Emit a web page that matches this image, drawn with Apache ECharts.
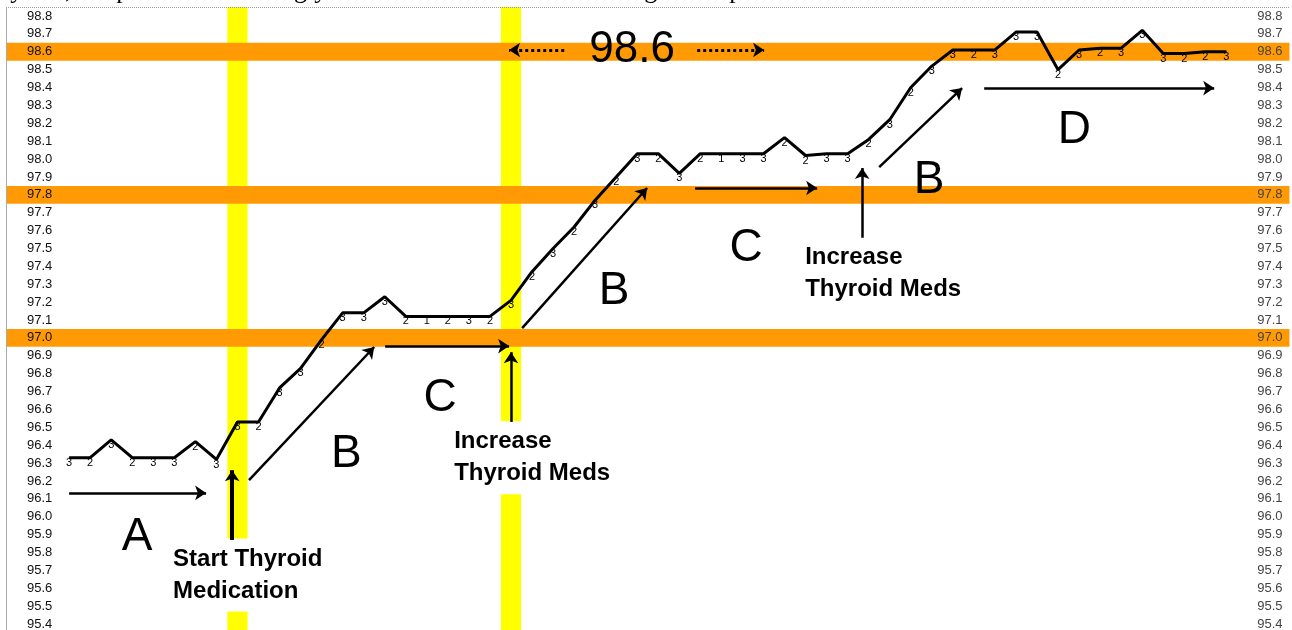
<!DOCTYPE html>
<html style="height: 100%">
<head>
    <meta charset="utf-8">
</head>
<body style="height: 100%; margin: 0; background: #fff">
<div id="container" style="width: 1292px; height: 630px"></div>
<script type="text/javascript" src="https://cdn.jsdelivr.net/npm/echarts@6/dist/echarts.min.js"></script>
<script type="text/javascript">
    // daily averaged temperatures, one point per day
    var tempValues = [
        96.33, 96.33, 96.43, 96.33, 96.33, 96.33, 96.42, 96.32,
        96.53, 96.53, 96.72, 96.83, 96.99, 97.14, 97.14, 97.23,
        97.12, 97.12, 97.12, 97.12, 97.12, 97.21,
        97.37, 97.50, 97.62, 97.77, 97.90, 98.03,
        98.03, 97.92, 98.03, 98.03, 98.03, 98.03,
        98.12, 98.02, 98.03, 98.03, 98.11, 98.22,
        98.40, 98.52, 98.61, 98.61, 98.61,
        98.71, 98.71, 98.50, 98.61, 98.62, 98.62,
        98.72, 98.59, 98.59, 98.60, 98.60
    ];
    // number of readings per day (the little labels)
    var readingCounts = [
        3, 2, 3, 2, 3, 3, 2, 3,
        3, 2, 3, 3, 2, 3, 3, 3, 2, 1, 2, 3, 2, 3,
        2, 3, 2, 3, 2, 3, 2, 3, 2, 1, 3, 3,
        2, 2, 3, 3, 2, 3, 2, 3, 3, 2, 3, 3, 3, 2, 3, 2, 3, 3, 3, 2, 2, 3
    ];
    var yTicks = [
        '95.4', '95.5', '95.6', '95.7', '95.8', '95.9', '96.0', '96.1', '96.2', '96.3',
        '96.4', '96.5', '96.6', '96.7', '96.8', '96.9', '97.0', '97.1', '97.2', '97.3',
        '97.4', '97.5', '97.6', '97.7', '97.8', '97.9', '98.0', '98.1', '98.2', '98.3',
        '98.4', '98.5', '98.6', '98.7', '98.8'
    ];
    var refBands = [97.0, 97.8, 98.6];
    var medDays = [9, 22];

    // annotations in data coords: [x1, y1, x2, y2]
    var arrows = [
        [1.0, 96.133, 7.51, 96.133],
        [9.55, 96.205, 15.5, 96.949],
        [16.02, 96.954, 21.91, 96.954],
        [22.0, 96.53, 22.0, 96.92],
        [22.53, 97.055, 28.47, 97.838],
        [30.75, 97.838, 36.55, 97.838],
        [38.69, 97.56, 38.69, 97.95],
        [39.5, 97.955, 43.44, 98.397],
        [44.49, 98.397, 55.42, 98.397]
    ];
    var startArrow = [8.75, 95.87, 8.75, 96.26];
    var dottedArrows = [
        [24.53, 98.61, 21.91, 98.61],
        [30.85, 98.61, 34.03, 98.61]
    ];
    var phaseLabels = [
        ['A', 4.23, 95.886], ['B', 14.17, 96.35], ['C', 18.63, 96.66],
        ['B', 26.90, 97.26], ['C', 33.18, 97.50], ['B', 41.87, 97.88],
        ['D', 48.77, 98.16], ['98.6', 27.76, 98.61]
    ];
    var noteLabels = [
        ['Start Thyroid\nMedication', 5.75, 95.674],
        ['Increase\nThyroid Meds', 19.11, 96.33],
        ['Increase\nThyroid Meds', 35.79, 97.36]
    ];

    var dom = document.getElementById("container");
    var myChart = echarts.init(dom);

    var lineData = tempValues.map(function (v, i) { return [i + 1, v]; });

    var areas = [];
    medDays.forEach(function (d) {
        areas.push([
            { coord: [d - 0.48, 98.85], itemStyle: { color: '#ffff00' } },
            { coord: [d + 0.48, 95.3] }
        ]);
    });
    refBands.forEach(function (b) {
        areas.push([
            { yAxis: b + 0.05, itemStyle: { color: '#ff9a05' } },
            { yAxis: b - 0.05 }
        ]);
    });

    var arrowLines = arrows.map(function (a) {
        return [{ coord: [a[0], a[1]] }, { coord: [a[2], a[3]] }];
    });
    arrowLines.push([
        { coord: [startArrow[0], startArrow[1]], lineStyle: { width: 4 } },
        { coord: [startArrow[2], startArrow[3]] }
    ]);
    dottedArrows.forEach(function (a) {
        arrowLines.push([
            { coord: [a[0], a[1]], lineStyle: { type: 'dotted', width: 3 } },
            { coord: [a[2], a[3]] }
        ]);
    });

    var labelFont = 'Liberation Sans, Arial, sans-serif';
    var noteData = [];
    phaseLabels.forEach(function (p) {
        noteData.push({
            value: [p[1], p[2]],
            label: {
                show: true, position: 'inside', formatter: p[0],
                fontSize: p[0] === '98.6' ? 44 : 46, color: '#000', opacity: 1,
                fontFamily: labelFont
            }
        });
    });
    noteLabels.forEach(function (n) {
        noteData.push({
            value: [n[1], n[2]],
            label: {
                show: true, position: 'right', distance: 0, formatter: n[0],
                fontSize: 24, fontWeight: 'bold', lineHeight: 32, color: '#000', opacity: 1,
                fontFamily: labelFont,
                backgroundColor: '#fff', padding: [3, 4, 6, 4]
            }
        });
    });

    var tickFormatter = function (v) {
        var s = v.toFixed(1);
        return yTicks.indexOf(s) >= 0 ? s : '';
    };

    option = {
        animation: false,
        backgroundColor: '#fff',
        graphic: [{
            type: 'text',
            style: {
                text: 'thyroid, the pattern is amazingly stable and we tend to see straight line patterns.',
                x: -10, y: 4, textVerticalAlign: 'bottom',
                font: '26px "Liberation Serif", serif', fill: '#000'
            }
        }],
        // 95.3 / 98.9 are padding rows so the bands reach the frame edges
        grid: { left: 6, width: 1283.5, top: -1.88, height: 643.76, outerBoundsMode: 'none' },
        xAxis: { type: 'value', min: -2, max: 59, show: false },
        yAxis: [{
            type: 'value', min: 95.3, max: 98.9, interval: 0.1, position: 'left', z: 10,
            axisLine: { show: false },
            axisTick: { show: false }, splitLine: { show: false },
            axisLabel: { inside: true, margin: 21, color: '#111', fontSize: 13,
                showMinLabel: false, showMaxLabel: false,
                fontFamily: labelFont, formatter: tickFormatter }
        }, {
            type: 'value', min: 95.3, max: 98.9, interval: 0.1, position: 'right', z: 10,
            axisLine: { show: false }, axisTick: { show: false }, splitLine: { show: false },
            axisLabel: { inside: true, margin: 7, color: '#444', fontSize: 13,
                showMinLabel: false, showMaxLabel: false,
                fontFamily: labelFont, formatter: tickFormatter }
        }],
        series: [
            {
                type: 'line', data: [], z: 1, silent: true,
                markArea: { silent: true, data: areas, label: { show: false } },
                markLine: {
                    silent: true, symbol: 'none', label: { show: false },
                    data: [
                        [{ coord: [-1.98, 98.85], lineStyle: { color: '#aaa', width: 1, type: 'solid' } },
                         { coord: [-1.98, 95.3] }],
                        [{ coord: [-2, 98.85], lineStyle: { color: '#999', width: 1, type: 'dotted' } },
                         { coord: [59, 98.85] }]
                    ]
                }
            },
            {
                type: 'scatter', data: noteData, symbolSize: 0, z: 3, silent: true,
                itemStyle: { opacity: 1 }
            },
            {
                type: 'line', data: [], silent: true, z: 4,
                markLine: {
                    silent: true, symbol: ['none', 'arrow'], symbolSize: 11,
                    label: { show: false },
                    lineStyle: { color: '#000', width: 2.5, type: 'solid' },
                    data: arrowLines
                }
            },
            {
                name: 'Temperature', type: 'line', data: lineData, z: 6,
                symbol: 'circle', symbolSize: 1, showSymbol: true, showAllSymbol: true,
                itemStyle: { color: '#000' },
                lineStyle: { color: '#000', width: 3 },
                label: {
                    show: true, position: 'bottom', distance: -1, fontSize: 11, color: '#000',
                    fontFamily: labelFont,
                    formatter: function (p) { return readingCounts[p.dataIndex]; }
                }
            }
        ]
    };
    if (option && typeof option === "object") {
        myChart.setOption(option, true);
    }
</script>
</body>
</html>
